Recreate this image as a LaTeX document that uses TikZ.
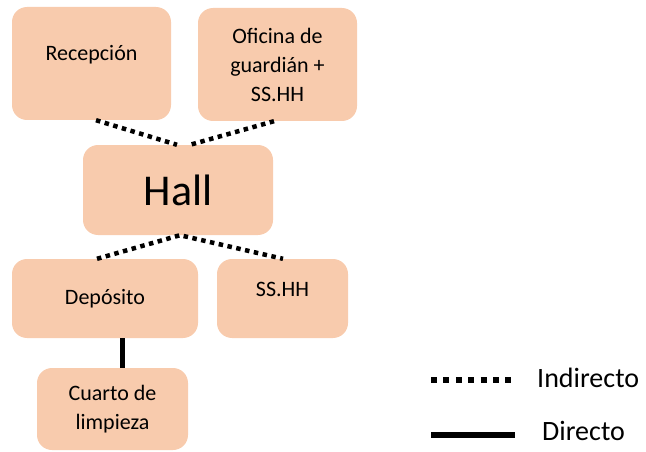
\documentclass[tikz,border=0pt]{standalone}
\usepackage{fontspec}
\setmainfont{Carlito}
\usepackage{tikz}
\usetikzlibrary{positioning,calc}
\definecolor{peach}{HTML}{F8CBAD}

\begin{document}
\begin{tikzpicture}[x=1pt, y=-1pt,
    room/.style={fill=peach, rounded corners=15pt, inner sep=2pt, align=center,
      font=\fontsize{22}{29}\selectfont},
    indirecto/.style={line width=4.5pt, dash pattern=on 4.5pt off 4.5pt},
    directo/.style={line width=5pt}]
    \useasboundingbox (0,0) rectangle (646,452);
    % espacios
    \node[room, minimum width=159pt, minimum height=113pt, text depth=22pt] (recep) at (91.5,63.5) {Recepción};
    \node[room, minimum width=159pt, minimum height=113pt] (ofic) at (277.5,64.5) {Oficina de\\guardián +\\SS.HH};
    \node[room, minimum width=190pt, minimum height=90pt, font=\fontsize{44}{50}\selectfont] (hall) at (178,190) {Hall};
    \node[room, minimum width=186pt, minimum height=79pt] (depo) at (105,298.5) {Depósito};
    \node[room, minimum width=131pt, minimum height=79pt, text depth=19pt] (sshh) at (282.5,298.5) {SS.HH};
    \node[room, minimum width=151pt, minimum height=82pt] (cuarto) at (112.5,409) {Cuarto de\\limpieza};
    % relaciones
    \draw[indirecto] ([xshift=4.5pt]recep.south) -- ([xshift=-1pt]hall.north);
    \draw[indirecto] ([xshift=-3.5pt]ofic.south) -- ([xshift=12pt]hall.north);
    \draw[indirecto] ([xshift=-8pt]depo.north) -- ([xshift=2pt]hall.south) -- ([xshift=0.5pt]sshh.north);
    \draw[directo] ([xshift=17pt]depo.south) -- ([xshift=9.5pt]cuarto.north);
    % leyenda
    \coordinate (ind1) at (431,380);
    \coordinate (ind2) at (513,380);
    \coordinate (dir1) at (431,434.5);
    \coordinate (dir2) at (515,434.5);
    \draw[line width=6pt, dash pattern=on 6pt off 6.4pt] (ind1) -- (ind2);
    \draw[line width=6pt] (dir1) -- (dir2);
    \node[anchor=base west, inner sep=0pt, font=\fontsize{28}{32}\selectfont] (lind) at (537,387) {Indirecto};
    \node[anchor=base west, inner sep=0pt, font=\fontsize{28}{32}\selectfont] (ldir) at (542,440) {Directo};
\end{tikzpicture}
\end{document}
